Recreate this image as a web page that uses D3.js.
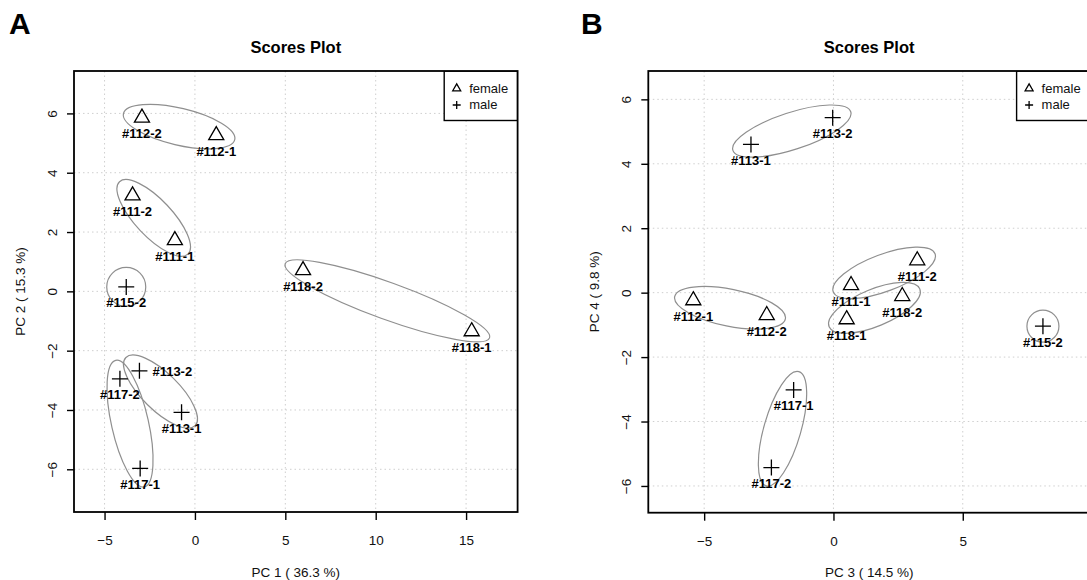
<!DOCTYPE html>
<html>
<head>
<meta charset="utf-8">
<script src="https://cdn.jsdelivr.net/npm/d3@7"></script>
<style>
  body { margin: 0; background: #fff; }
  svg { display: block; font-family: "Liberation Sans", Arial, sans-serif; }
</style>
</head>
<body>
<div id="chart"></div>
<script>
// sample scores
var sampleIds = ["#111-1", "#111-2", "#112-1", "#112-2", "#113-1", "#113-2", "#115-2", "#117-1", "#117-2", "#118-1", "#118-2"];
var sex = ["female", "female", "female", "female", "male", "male", "male", "male", "male", "female", "female"];

var pc1 = [-1.11, -3.45, 1.18, -2.93, -0.74, -3.07, -3.80, -3.03, -4.15, 15.31, 5.98];
var pc2 = [1.72, 3.23, 5.26, 5.85, -4.08, -2.68, 0.15, -5.97, -2.95, -1.35, 0.71];
var pc3 = [0.68, 3.24, -5.42, -2.58, -3.19, -0.03, 8.10, -1.54, -2.40, 0.51, 2.66];
var pc4 = [0.23, 1.00, -0.24, -0.70, 4.60, 5.43, -1.04, -3.02, -5.43, -0.83, -0.11];

var legendKeys = ["female", "male"];
var yTickValues = [-6, -4, -2, 0, 2, 4, 6];

var W = 1087, H = 580;

var svg = d3.select("#chart").append("svg")
  .attr("width", W)
  .attr("height", H);

// panel layout
var panels = [
  { letter: "A", letterX: 9, left: 74, right: 517.6, top: 71, bottom: 512,
    xDomain: [-6.69, 17.85], yDomain: [-7.44, 7.43], xTicks: [-5, 0, 5, 10, 15],
    xs: pc1, ys: pc2, xTitle: "PC 1 ( 36.3 %)", yTitle: "PC 2 ( 15.3 %)",
    rightLabels: ["#113-2"], single: 19.5 },
  { letter: "B", letterX: 581, left: 648.3, right: 1090, top: 71, bottom: 512.7,
    xDomain: [-7.16, 9.92], yDomain: [-6.83, 6.88], xTicks: [-5, 0, 5],
    xs: pc3, ys: pc4, xTitle: "PC 3 ( 14.5 %)", yTitle: "PC 4 ( 9.8 %)",
    rightLabels: [], single: 16 }
];

function triPath(r) {
  var hw = r * 0.866;
  return "M0," + (-r) + "L" + hw + "," + (r / 2) + "L" + (-hw) + "," + (r / 2) + "Z";
}
function plusPath(s) {
  return "M" + (-s) + ",0H" + s + "M0," + (-s) + "V" + s;
}

panels.forEach(function(p) {

  var x = d3.scaleLinear().domain(p.xDomain).range([p.left, p.right]);
  var y = d3.scaleLinear().domain(p.yDomain).range([p.bottom, p.top]);

  var g = svg.append("g");

  // panel letter
  g.append("text")
    .attr("x", p.letterX)
    .attr("y", 34)
    .attr("font-size", "30px")
    .attr("font-weight", "bold")
    .text(p.letter);

  // title
  g.append("text")
    .attr("x", (p.left + p.right) / 2)
    .attr("y", 53)
    .attr("text-anchor", "middle")
    .attr("font-size", "16.5px")
    .attr("font-weight", "bold")
    .text("Scores Plot");

  // dotted grid
  g.selectAll(null).data(p.xTicks).enter().append("line")
    .attr("x1", d => x(d)).attr("x2", d => x(d))
    .attr("y1", p.top).attr("y2", p.bottom)
    .attr("stroke", "#cfcfcf").attr("stroke-width", 1)
    .attr("stroke-dasharray", "1.5,3");

  g.selectAll(null).data(yTickValues).enter().append("line")
    .attr("y1", d => y(d)).attr("y2", d => y(d))
    .attr("x1", p.left).attr("x2", p.right)
    .attr("stroke", "#cfcfcf").attr("stroke-width", 1)
    .attr("stroke-dasharray", "1.5,3");

  // axes
  var xAxis = g.append("g")
    .attr("transform", `translate(0,${p.bottom})`)
    .call(d3.axisBottom(x).tickValues(p.xTicks).tickSize(8).tickSizeOuter(0).tickFormat(d3.format("d")));
  xAxis.select(".domain").remove();
  xAxis.selectAll("line").attr("stroke", "#000").attr("stroke-width", 1.4);
  xAxis.selectAll("text")
    .attr("y", 33).attr("dy", null)
    .attr("font-size", "13.5px")
    .attr("font-family", "Liberation Sans, Arial, sans-serif")
    .attr("fill", "#111");

  var yAxis = g.append("g")
    .attr("transform", `translate(${p.left},0)`)
    .call(d3.axisLeft(y).tickValues(yTickValues).tickSize(7).tickSizeOuter(0).tickFormat(d3.format("d")));
  yAxis.select(".domain").remove();
  yAxis.selectAll("line").attr("stroke", "#000").attr("stroke-width", 1.4);
  yAxis.selectAll("text")
    .attr("transform", "rotate(-90)")
    .attr("x", 0).attr("y", -17.5).attr("dy", null)
    .attr("text-anchor", "middle")
    .attr("font-size", "13.5px")
    .attr("font-family", "Liberation Sans, Arial, sans-serif")
    .attr("fill", "#111");

  // axis titles
  g.append("text")
    .attr("x", (p.left + p.right) / 2)
    .attr("y", 577)
    .attr("text-anchor", "middle")
    .attr("font-size", "13.5px")
    .attr("fill", "#111")
    .text(p.xTitle);

  g.append("text")
    .attr("transform", `translate(${p.left - 49},${(p.top + p.bottom) / 2}) rotate(-90)`)
    .attr("text-anchor", "middle")
    .attr("font-size", "13.5px")
    .attr("fill", "#111")
    .text(p.yTitle);

  // clip for things inside the plot box
  var clipId = "clip" + p.letter;
  g.append("clipPath").attr("id", clipId)
    .append("rect")
    .attr("x", p.left).attr("y", p.top)
    .attr("width", p.right - p.left).attr("height", p.bottom - p.top);

  var inner = g.append("g").attr("clip-path", `url(#${clipId})`);

  var data = sampleIds.map(function(id, i) {
    return { id: id, group: id.split("-")[0], sex: sex[i], px: x(p.xs[i]), py: y(p.ys[i]) };
  });

  // ellipses around replicate pairs
  var groups = d3.groups(data, d => d.group);
  var pad = 19, minor = 18.5;
  inner.selectAll("ellipse")
    .data(groups)
    .enter()
    .append("ellipse")
    .each(function(gr) {
      var pts = gr[1];
      var el = d3.select(this);
      if (pts.length === 1) {
        el.attr("cx", 0).attr("cy", 0).attr("rx", p.single).attr("ry", p.single)
          .attr("transform", `translate(${pts[0].px},${pts[0].py})`);
      } else {
        var a = pts[0], b = pts[1];
        var cx = (a.px + b.px) / 2, cy = (a.py + b.py) / 2;
        var half = Math.hypot(b.px - a.px, b.py - a.py) / 2;
        var ang = Math.atan2(b.py - a.py, b.px - a.px) * 180 / Math.PI;
        el.attr("cx", 0).attr("cy", 0).attr("rx", half + pad).attr("ry", minor)
          .attr("transform", `translate(${cx},${cy}) rotate(${ang})`);
      }
    })
    .attr("fill", "none")
    .attr("stroke", "#8f8f8f")
    .attr("stroke-width", 1.2);

  // points
  inner.selectAll("path.pt")
    .data(data)
    .enter()
    .append("path")
    .attr("class", "pt")
    .attr("transform", d => `translate(${d.px},${d.py})`)
    .attr("d", d => d.sex === "female" ? triPath(8.7) : plusPath(8))
    .attr("fill", "none")
    .attr("stroke", "#000")
    .attr("stroke-width", 1.3);

  // sample labels
  inner.selectAll("text.lbl")
    .data(data)
    .enter()
    .append("text")
    .attr("class", "lbl")
    .attr("x", d => p.rightLabels.indexOf(d.id) >= 0 ? d.px + 13 : d.px)
    .attr("y", d => p.rightLabels.indexOf(d.id) >= 0 ? d.py + 4.8 : d.py + 20.5)
    .attr("text-anchor", d => p.rightLabels.indexOf(d.id) >= 0 ? "start" : "middle")
    .attr("font-size", "13px")
    .attr("font-weight", "bold")
    .attr("fill", "#000")
    .text(d => d.id);

  // legend (top right)
  var lw = 73.4, lh = 49.5;
  var leg = inner.append("g").attr("transform", `translate(${p.right - lw},${p.top})`);
  leg.append("rect")
    .attr("width", lw).attr("height", lh)
    .attr("fill", "#fff").attr("stroke", "#000").attr("stroke-width", 1.4);
  leg.selectAll("path")
    .data(legendKeys)
    .enter()
    .append("path")
    .attr("transform", (d, i) => `translate(12.5,${17.5 + i * 16.5})`)
    .attr("d", d => d === "female" ? triPath(4.6) : plusPath(4))
    .attr("fill", "none").attr("stroke", "#000").attr("stroke-width", 1.3);
  leg.selectAll("text")
    .data(legendKeys)
    .enter()
    .append("text")
    .attr("x", 25)
    .attr("y", (d, i) => 21.8 + i * 16.5)
    .attr("font-size", "13px")
    .attr("fill", "#111")
    .text(d => d);

  // plot frame
  g.append("rect")
    .attr("x", p.left).attr("y", p.top)
    .attr("width", p.right - p.left).attr("height", p.bottom - p.top)
    .attr("fill", "none").attr("stroke", "#000").attr("stroke-width", 1.8);
});
</script>
</body>
</html>
